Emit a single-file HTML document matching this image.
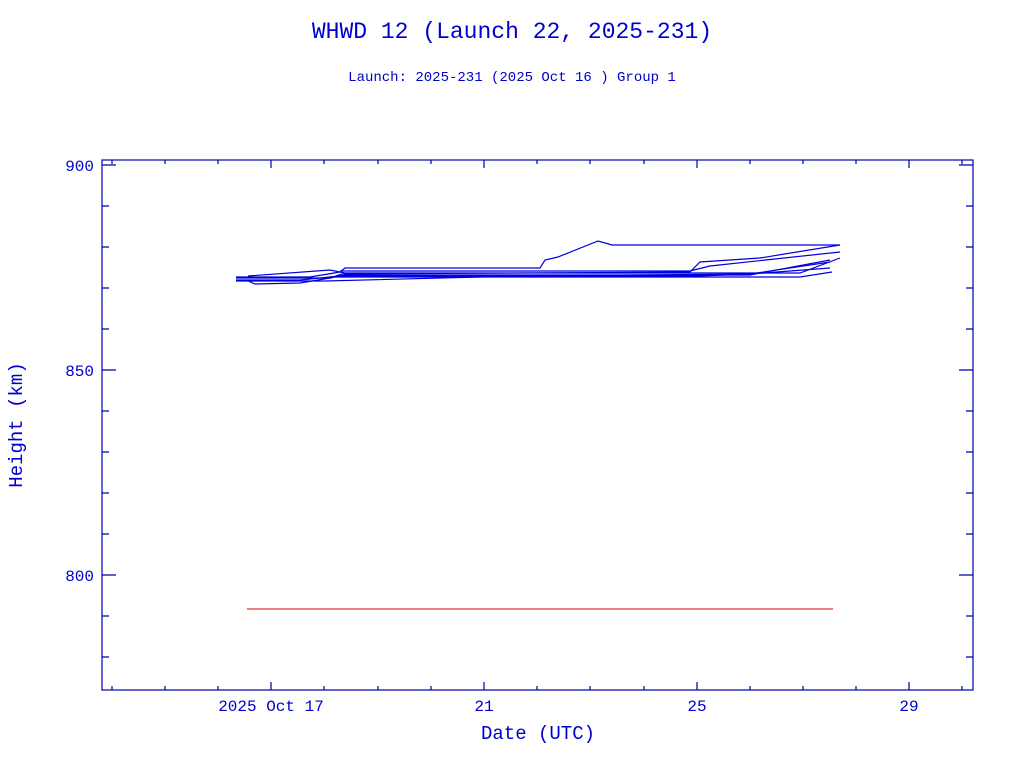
<!DOCTYPE html>
<html><head><style>body{margin:0;background:#fff}</style></head><body>
<svg width="1024" height="768" xmlns="http://www.w3.org/2000/svg" font-family="Liberation Mono, monospace" fill="#0000cc">
<text x="512" y="38" text-anchor="middle" font-size="23">WHWD 12 (Launch 22, 2025-231)</text>
<text x="512" y="81" text-anchor="middle" font-size="14">Launch: 2025-231  (2025 Oct 16 )  Group 1</text>
<g stroke="#0000aa" stroke-width="1.2" fill="none">
<rect x="102" y="160" width="871" height="530"/>
<path d="M271,690v-8M484,690v-8M697,690v-8M909,690v-8M271,160v8M484,160v8M697,160v8M909,160v8
M112,690v-4M165,690v-4M218,690v-4M324,690v-4M378,690v-4M431,690v-4M537,690v-4M590,690v-4M644,690v-4M750,690v-4M803,690v-4M856,690v-4M962,690v-4
M112,160v4M165,160v4M218,160v4M324,160v4M378,160v4M431,160v4M537,160v4M590,160v4M644,160v4M750,160v4M803,160v4M856,160v4M962,160v4
M102,165h14M102,370h14M102,575h14M973,165h-14M973,370h-14M973,575h-14
M102,206h7M102,247h7M102,288h7M102,329h7M102,411h7M102,452h7M102,493h7M102,534h7M102,616h7M102,657h7
M973,206h-7M973,247h-7M973,288h-7M973,329h-7M973,411h-7M973,452h-7M973,493h-7M973,534h-7M973,616h-7M973,657h-7"/>
</g>
<g stroke="#0000dd" stroke-width="1.2" fill="none">
<polyline points="236,277 310,277 340,272 345,268 540,268 545,260 558,257 598,241 612,245 840,245"/>
<polyline points="236,280 300,280 340,276 697,276 750,274 830,268"/>
<polyline points="246,280 255,284 300,283 330,278 342,274 690,272 700,262 760,258 840,245"/>
<polyline points="248,276 330,270 345,273 800,273 840,258"/>
<polyline points="236,281 325,281 520,276 750,274 830,262"/>
<polyline points="330,277 800,277 832,272"/>
<polyline points="340,271 690,271 710,266 840,252"/>
<polyline points="236,278 330,278 345,275 750,275 830,260"/>
</g>
<line x1="247" y1="609" x2="833" y2="609" stroke="#dd0000" stroke-width="1"/>
<g font-size="16" text-anchor="middle">
<text x="271" y="711">2025 Oct 17</text><text x="484" y="711">21</text><text x="697" y="711">25</text><text x="909" y="711">29</text>
<text x="538" y="739" font-size="19">Date (UTC)</text>
</g>
<g font-size="16" text-anchor="end">
<text x="94" y="171">900</text><text x="94" y="376">850</text><text x="94" y="581">800</text>
</g>
<text transform="translate(22,425) rotate(-90)" text-anchor="middle" font-size="19">Height (km)</text>
</svg>
</body></html>
